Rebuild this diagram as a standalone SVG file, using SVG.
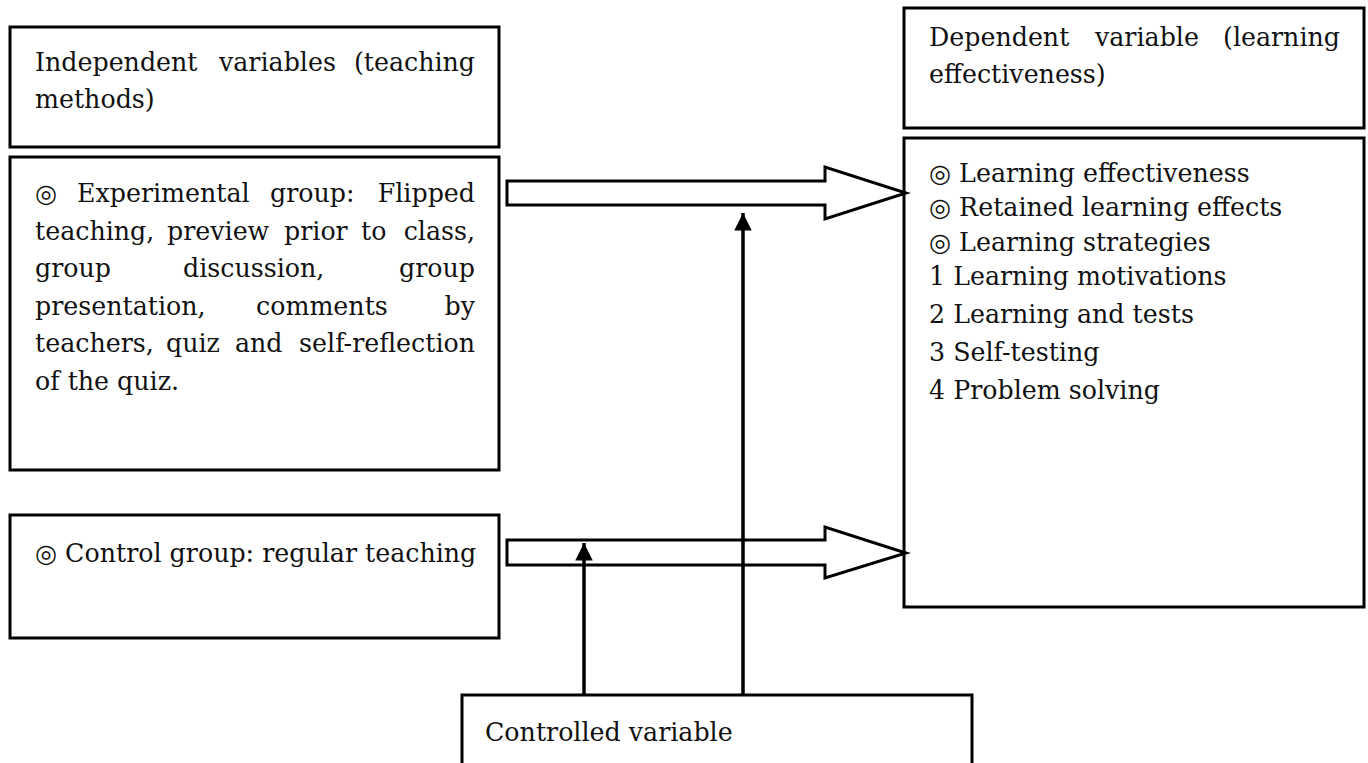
<svg xmlns="http://www.w3.org/2000/svg" width="1368" height="763" viewBox="0 0 1368 763">
<style>
.box{fill:#fff;stroke:#000;stroke-width:3}
.t{font-family:"DejaVu Serif","Liberation Serif","Noto Sans CJK SC",serif;font-size:25.3px;fill:#111}
.e{text-anchor:end}
.blk{fill:#fff;stroke:#000;stroke-width:3;stroke-linejoin:miter}
.ln{stroke:#000;stroke-width:3.5;fill:none}
</style>
<defs>
<marker id="ah" viewBox="0 0 10 10" refX="10" refY="5" markerWidth="5.5" markerHeight="5" markerUnits="strokeWidth" orient="auto">
<path d="M0,0 L10,5 L0,10 Z" fill="#000"/>
</marker>
</defs>
<rect width="1368" height="763" fill="#fff"/>
<g id="indep-header">
<rect class="box" x="10" y="27" width="489" height="120"/>
<text class="t" y="71"><tspan x="35">Independent</tspan><tspan x="219">variables</tspan></text>
<text class="t e" x="475" y="71">(teaching</text>
<text class="t" x="35" y="108">methods)</text>
</g>
<g id="experimental">
<rect class="box" x="10" y="157" width="489" height="313"/>
<text class="t" y="202"><tspan x="35">◎</tspan><tspan x="77">Experimental</tspan><tspan x="270">group:</tspan></text>
<text class="t e" x="475" y="202">Flipped</text>
<text class="t" y="240"><tspan x="35">teaching,</tspan><tspan x="167">preview</tspan><tspan x="284">prior</tspan><tspan x="361">to</tspan></text>
<text class="t e" x="475" y="240">class,</text>
<text class="t" y="277"><tspan x="35">group</tspan><tspan x="183">discussion,</tspan></text>
<text class="t e" x="475" y="277">group</text>
<text class="t" y="315"><tspan x="35">presentation,</tspan><tspan x="256">comments</tspan></text>
<text class="t e" x="475" y="315">by</text>
<text class="t" y="352"><tspan x="35">teachers,</tspan><tspan x="166">quiz</tspan><tspan x="235">and</tspan></text>
<text class="t e" x="475" y="352">self-reflection</text>
<text class="t" x="35" y="390">of the quiz.</text>
</g>
<g id="control">
<rect class="box" x="10" y="515" width="489" height="123"/>
<text class="t" x="35" y="562">◎ Control group: regular teaching</text>
</g>
<g id="dep-header">
<rect class="box" x="904" y="8" width="460" height="120"/>
<text class="t" y="46"><tspan x="929">Dependent</tspan><tspan x="1095">variable</tspan></text>
<text class="t e" x="1340" y="46">(learning</text>
<text class="t" x="929" y="83">effectiveness)</text>
</g>
<g id="dependent">
<rect class="box" x="904" y="138" width="460" height="469"/>
<text class="t" x="929" y="182">◎ Learning effectiveness</text>
<text class="t" x="929" y="216">◎ Retained learning effects</text>
<text class="t" x="929" y="251">◎ Learning strategies</text>
<text class="t" x="929" y="285">1 Learning motivations</text>
<text class="t" x="929" y="323">2 Learning and tests</text>
<text class="t" x="929" y="361">3 Self-testing</text>
<text class="t" x="929" y="399">4 Problem solving</text>
</g>
<g id="controlled">
<rect class="box" x="462" y="695" width="510" height="90"/>
<text class="t" x="485" y="741">Controlled variable</text>
</g>
<g id="connectors">
<polygon class="blk" points="507,181 825,181 825,167 906,193 825,219 825,205 507,205"/>
<polygon class="blk" points="507,540 825,540 825,527 906,553 825,578 825,565 507,565"/>
<line class="ln" x1="584" y1="695" x2="584" y2="543" marker-end="url(#ah)"/>
<line class="ln" x1="743" y1="695" x2="743" y2="213" marker-end="url(#ah)"/>
</g>
</svg>
